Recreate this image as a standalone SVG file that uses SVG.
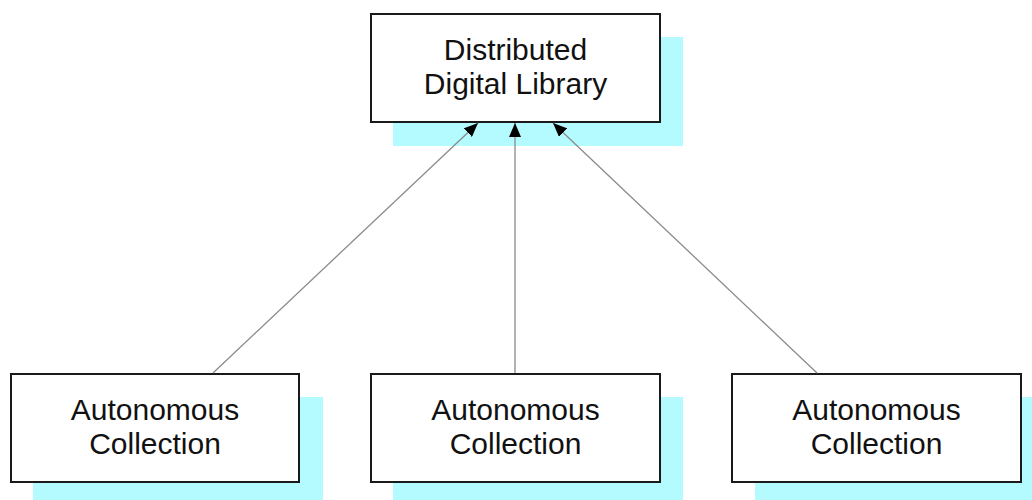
<svg xmlns="http://www.w3.org/2000/svg" width="1032" height="500" viewBox="0 0 1032 500">
<style>
.shadow{fill:#b3fbff;stroke:none}
.box{fill:#ffffff;stroke:#1a1a1a;stroke-width:2}
.lbl{font-family:"Liberation Sans",Arial,sans-serif;font-size:30px;fill:#111111;text-anchor:middle}
.conn{stroke:#8a8a8a;stroke-width:1.3;fill:none;marker-end:url(#arr)}
</style>
<defs>
<marker id="arr" viewBox="0 0 14 12" refX="14" refY="6" markerWidth="14" markerHeight="12" markerUnits="userSpaceOnUse" orient="auto">
<path d="M0,0 L14,6 L0,12 Z" fill="#000000"/>
</marker>
</defs>
<rect width="1032" height="500" fill="#ffffff"/>
<g id="ddl">
<rect class="shadow" x="393" y="37" width="290" height="109"/>
<rect class="box" x="371" y="14" width="289" height="108"/>
<text class="lbl" x="515.5" y="60">Distributed</text>
<text class="lbl" x="515.5" y="94">Digital Library</text>
</g>
<g id="ac1">
<rect class="shadow" x="33" y="397" width="290" height="103"/>
<rect class="box" x="11" y="374" width="288" height="108"/>
<text class="lbl" x="155" y="420">Autonomous</text>
<text class="lbl" x="155" y="454">Collection</text>
</g>
<g id="ac2">
<rect class="shadow" x="393" y="397" width="290" height="103"/>
<rect class="box" x="371" y="374" width="289" height="108"/>
<text class="lbl" x="515.5" y="420">Autonomous</text>
<text class="lbl" x="515.5" y="454">Collection</text>
</g>
<g id="ac3">
<rect class="shadow" x="755" y="397" width="290" height="103"/>
<rect class="box" x="732" y="374" width="289" height="108"/>
<text class="lbl" x="876.5" y="420">Autonomous</text>
<text class="lbl" x="876.5" y="454">Collection</text>
</g>
<g id="connectors">
<line class="conn" x1="213" y1="373" x2="478" y2="123"/>
<line class="conn" x1="515" y1="373" x2="515" y2="123"/>
<line class="conn" x1="817" y1="373" x2="553" y2="123"/>
</g>
</svg>
